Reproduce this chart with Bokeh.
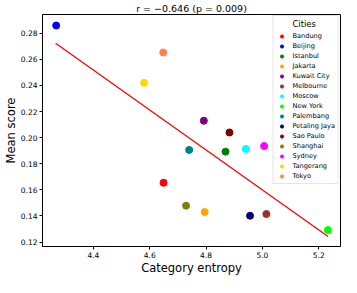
from bokeh.plotting import figure
from bokeh.models import FixedTicker, NumeralTickFormatter, Legend, LegendItem
from bokeh.embed import file_html
from bokeh.resources import INLINE

cities = ["Bandung", "Beijing", "Istanbul", "Jakarta", "Kuwait City", "Melbourne",
          "Moscow", "New York", "Palembang", "Petaling Jaya", "Sao Paulo", "Shanghai",
          "Sydney", "Tangerang", "Tokyo"]
entropy = [4.649, 4.268, 4.869, 4.795, 4.792, 5.014,
           4.941, 5.232, 4.740, 4.956, 4.883, 4.729,
           5.006, 4.580, 4.648]
score = [0.1655, 0.2860, 0.1893, 0.1430, 0.2130, 0.1415,
         0.1914, 0.1292, 0.1906, 0.1402, 0.2040, 0.1479,
         0.1936, 0.2420, 0.2653]
colors = ["red", "blue", "green", "orange", "purple", "brown",
          "cyan", "lime", "teal", "navy", "maroon", "olive",
          "magenta", "gold", "coral"]
fit_x = [4.266, 5.233]
fit_y = [0.2723, 0.1243]
x_ticks = [4.4, 4.6, 4.8, 5.0, 5.2]
y_ticks = [0.12, 0.14, 0.16, 0.18, 0.20, 0.22, 0.24, 0.26, 0.28]
title = "r = \u22120.646 (p = 0.009)"

FONT = "DejaVu Sans"

p = figure(width=341, height=277, output_backend="svg", toolbar_location=None,
           x_range=(4.2195, 5.277), y_range=(0.1166, 0.2944),
           min_border_left=37, min_border_right=1, min_border_top=11, min_border_bottom=0)
p.title.text = title
p.title.align = "center"
p.title.text_font = FONT
p.title.text_font_size = "9.5px"
p.title.text_font_style = "normal"
p.title.text_color = "black"
p.title.standoff = 1
p.title.offset = 0

p.xgrid.visible = False
p.ygrid.visible = False
p.outline_line_color = "black"
p.outline_line_width = 1
p.background_fill_color = "white"
p.border_fill_color = "white"

p.line(fit_x, fit_y, line_color="red", line_width=1.3)

items = []
for c, x, y, col in zip(cities, entropy, score, colors):
    r = p.scatter([x], [y], size=7, fill_color=col, line_color=col)
    items.append(LegendItem(label=c, renderers=[r]))

legend = Legend(items=items, location="top_right")
legend.title = "\u00a0\u00a0\u00a0\u00a0\u00a0\u00a0Cities"
legend.title_text_font = FONT
legend.title_text_font_size = "8.4px"
legend.title_text_font_style = "normal"
legend.title_text_color = "black"
legend.title_standoff = 3
legend.label_text_font = FONT
legend.label_text_font_size = "6.6px"
legend.label_text_color = "black"
legend.label_height = 8
legend.glyph_height = 8
legend.glyph_width = 10
legend.label_standoff = 6
legend.spacing = 2
legend.padding = 3
legend.margin = 1
legend.border_line_color = "#cccccc"
legend.background_fill_alpha = 0.85
p.add_layout(legend)

for ax in (p.xaxis[0], p.yaxis[0]):
    ax.axis_line_color = "black"
    ax.major_tick_line_color = "black"
    ax.major_tick_out = 3
    ax.major_tick_in = 0
    ax.minor_tick_line_color = None
    ax.major_label_text_font = FONT
    ax.major_label_text_font_size = "7.5px"
    ax.major_label_text_color = "black"
    ax.axis_label_text_font = FONT
    ax.axis_label_text_font_size = "11.5px"
    ax.axis_label_text_font_style = "normal"
    ax.axis_label_text_color = "black"
    ax.major_label_standoff = 2
    ax.axis_label_standoff = 0

p.xaxis.ticker = FixedTicker(ticks=x_ticks)
p.yaxis.ticker = FixedTicker(ticks=y_ticks)
p.xaxis.formatter = NumeralTickFormatter(format="0.0")
p.yaxis.formatter = NumeralTickFormatter(format="0.00")
p.xaxis.axis_label = "Category entropy"
p.yaxis.axis_label = "Mean score"

open("out.html", "w").write(file_html(p, INLINE))
